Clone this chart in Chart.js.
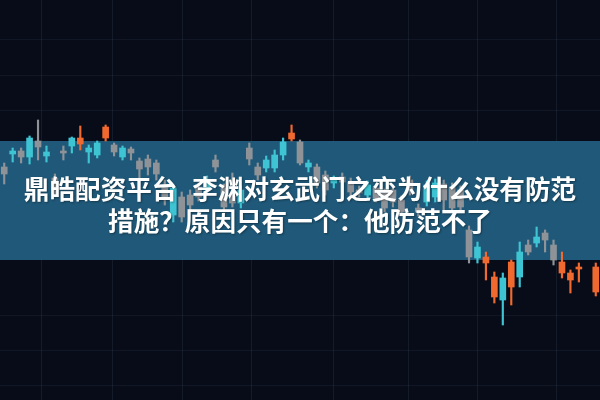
<!DOCTYPE html>
<html lang="zh">

<head>
    <meta charset="UTF-8">
    <title>鼎皓配资平台</title>
    <script src="https://cdn.jsdelivr.net/npm/chart.js"></script>
    <style>
        body { margin: 0; background: #080c18; }
        #wrap { position: relative; width: 600px; height: 400px; overflow: hidden; }
        #headline {
            position: absolute; left: 0; top: 172px; width: 600px;
            text-align: center; color: #fff;
            font: bold 25.6px/32px "Noto Sans CJK SC", sans-serif;
            word-spacing: 9px;
            text-shadow: 1px 1px 2px rgba(0, 0, 0, 0.35);
        }
    </style>
</head>

<body>
    <div id="wrap">
        <canvas id="myChart" width="600" height="400"></canvas>
        <div id="headline">鼎皓配资平台 李渊对玄武门之变为什么没有防范<br>措施？原因只有一个：他防范不了</div>
    </div>

    <script>
        // candle prices, one slot per session (null = no candle)
        const open = [233, 246, 249, 243, 259, 244, 222, 249, 254, 262, 248, 245, 273, 255, 243, 251, 239, 241, 237, 215,
            185, 203, 205, 213, 210, 240, 212, 204, 197, 252, 233, 232, 232, 245, 267, 258, 233, 233, 225, 217,
            223, 218, 210, 205, 212, 207, 210, 200, 220, 192, 198, 203, 216, 213, 210, 170, 142, 143, 123, 100,
            138, 123, 155, 157, 167, 155, 138, 127, 133, null, 133];
        const close = [226, 249, 243, 262, 253, 248, 210, 247, 262, 256, 252, 257, 262, 248, 252, 247, 231, 233, 226, 202,
            212, 183, 195, 203, 220, 233, 193, 197, 210, 241, 225, 240, 245, 258, 261, 237, 237, 217, 210, 220,
            218, 208, 207, 215, 202, 192, 198, 188, 210, 188, 215, 217, 200, 192, 193, 143, 153, 137, 103, 122,
            113, 148, 148, 163, 160, 140, 127, 120, 131, null, 108];
        const high = [237, 252, 252, 264, 280, 254, 226, 254, 263, 274, 255, 259, 275, 257, 254, 253, 242, 245, 240, 220,
            215, 208, 210, 217, 224, 245, 216, 227, 214, 257, 237, 244, 250, 262, 275, 260, 240, 236, 229, 224,
            227, 222, 214, 219, 216, 211, 215, 204, 224, 196, 219, 221, 220, 217, 214, 174, 158, 148, 128, 127,
            140, 158, 160, 173, 170, 160, 148, 130, 137, null, 137];
        const low = [216, 238, 237, 236, 240, 238, 206, 240, 247, 250, 237, 242, 259, 244, 240, 240, 222, 225, 220, 195,
            178, 178, 190, 199, 205, 228, 188, 193, 192, 235, 220, 228, 228, 240, 259, 235, 228, 212, 205, 212,
            214, 204, 203, 201, 198, 188, 193, 184, 205, 184, 194, 198, 190, 188, 188, 137, 137, 120, 97, 75,
            95, 113, 145, 153, 148, 135, 122, 107, 118, null, 104];
        // u = up, d = down, f = flat / muted candle
        const tone = ['f', 'u', 'f', 'u', 'f', 'u', 'f', 'f', 'u', 'd', 'u', 'u', 'd', 'f', 'u', 'f', 'f', 'f', 'f', 'f',
            'u', 'f', 'f', 'f', 'u', 'f', 'f', 'f', 'u', 'f', 'f', 'u', 'u', 'u', 'd', 'f', 'u', 'f', 'f', 'u',
            'f', 'f', 'f', 'u', 'f', 'f', 'f', 'f', 'f', 'f', 'u', 'u', 'f', 'f', 'f', 'f', 'u', 'd', 'd', 'u',
            'd', 'u', 'f', 'u', 'f', 'f', 'd', 'd', 'd', null, 'd'];
        const labels = open.map((_, i) => String(i + 1));

        // price range covered by the headline band
        const bandLow = 140;
        const bandHigh = 259;
        const gridX = [40, 123, 202, 285, 393, 460, 553];
        const gridY = [15, 50, 85, 290, 325, 360];

        const palette = { u: '#3ec4d2', d: '#f0692f', f: '#8f9398' };
        const colors = tone.map(t => palette[t] || 'transparent');

        const band = {
            id: 'band',
            beforeDatasetsDraw(chart) {
                const { ctx, chartArea, scales } = chart;
                const top = scales.y.getPixelForValue(bandHigh);
                const bottom = scales.y.getPixelForValue(bandLow);
                ctx.save();
                ctx.fillStyle = '#1f5878';
                ctx.fillRect(chartArea.left, top, chartArea.right - chartArea.left, bottom - top);
                ctx.restore();
            }
        };

        const ctx = document.getElementById('myChart').getContext('2d');
        const myChart = new Chart(ctx, {
            type: 'bar',
            data: {
                labels: labels,
                datasets: [
                    {
                        label: 'wick',
                        data: low.map((l, i) => l === null ? null : [l, high[i]]),
                        backgroundColor: colors,
                        barThickness: 1.5,
                        grouped: false
                    },
                    {
                        label: 'body',
                        data: open.map((o, i) => o === null ? null : [o, close[i]]),
                        backgroundColor: colors,
                        barThickness: 6,
                        grouped: false
                    }
                ]
            },
            options: {
                responsive: false,
                animation: false,
                layout: { padding: 0 },
                plugins: {
                    legend: { display: false },
                    tooltip: { enabled: false }
                },
                scales: {
                    x: { display: false },
                    xg: {
                        type: 'linear', position: 'bottom', min: 0, max: 600,
                        afterBuildTicks: axis => { axis.ticks = gridX.map(v => ({ value: v })); },
                        ticks: { display: false },
                        border: { display: false },
                        grid: { color: 'rgba(110, 130, 165, 0.13)', drawTicks: false }
                    },
                    y: {
                        min: 0, max: 400,
                        afterBuildTicks: axis => { axis.ticks = gridY.map(v => ({ value: v })); },
                        ticks: { display: false },
                        border: { display: false },
                        grid: { color: 'rgba(110, 130, 165, 0.10)', drawTicks: false }
                    }
                }
            },
            plugins: [band]
        });
    </script>
</body>

</html>
